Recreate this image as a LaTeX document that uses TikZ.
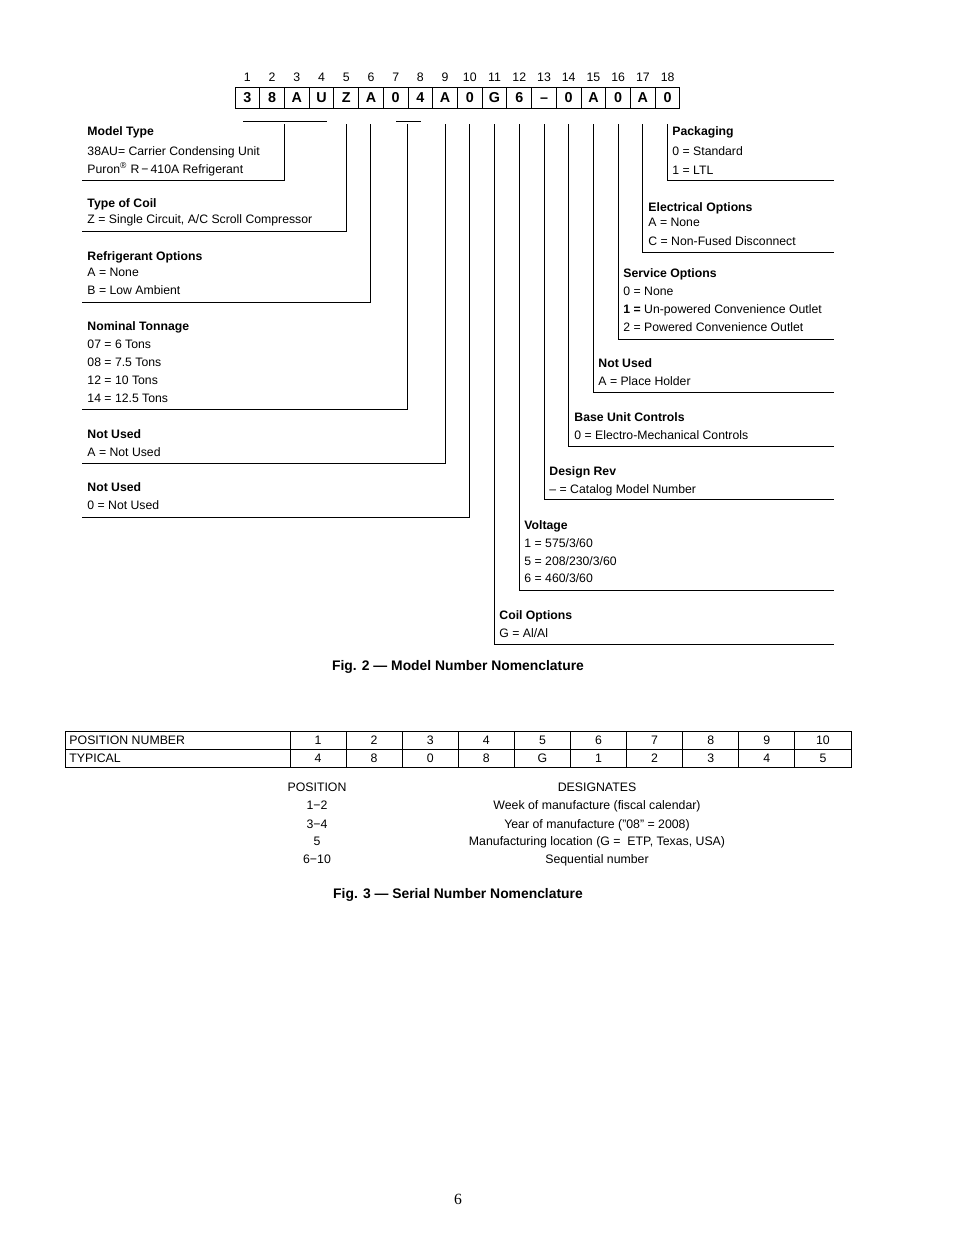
\documentclass[tikz,border=0pt]{standalone}
\usepackage{fontspec}
\setmainfont{Liberation Sans}
\newfontfamily\serifnum{Liberation Serif}
\begin{document}
\begin{tikzpicture}[x=0.6415pt,y=-0.6415pt,
  line width=0.6pt,
  txt/.style={anchor=base west, inner sep=0pt, font=\fontsize{7.85}{9}\selectfont},
  ttl/.style={anchor=base west, inner sep=0pt, font=\fontsize{7.85}{9}\selectfont\bfseries},
  ctr/.style={anchor=base, inner sep=0pt, font=\fontsize{7.9}{9}\selectfont},
  figcap/.style={anchor=base, inner sep=0pt, font=\fontsize{8.9}{10}\selectfont\bfseries},
  cell/.style={draw, minimum width=15.86pt, minimum height=13.5pt, inner sep=0pt, text height=6.6pt, text depth=0pt, font=\fontsize{9.2}{10}\selectfont\bfseries},
  num/.style={anchor=base, inner sep=0pt, font=\fontsize{7.9}{9}\selectfont},
  tab/.style={anchor=base, inner sep=0pt, font=\fontsize{7.9}{8}\selectfont},
  brk/.style={line width=0.6pt}]
\useasboundingbox (0,0) rectangle (954,1235);
\fill[white] (0,0) rectangle (954,1235);

% ---- model number cells
\foreach \i/\c in {1/3,2/8,3/A,4/U,5/Z,6/A,7/0,8/4,9/A,10/0,11/G,12/6,13/{\textendash},14/0,15/A,16/0,17/A,18/0}{
  \node[cell] (c\i) at ({235+(\i-0.5)*24.72},97.5) {\c};
  \node[num] (n\i) at ({235+(\i-0.5)*24.72},81) {\i};
}
\coordinate (lvl) at (0,124);
\coordinate (ua) at (243,121); \coordinate (ub) at (327,121);
\coordinate (uc) at (396,121); \coordinate (ud) at (421,121);
\draw (ua) -- (ub);
\draw (uc) -- (ud);

% ---- left blocks
\node[ttl] (mt0) at (87,135) {Model Type};
\node[txt] (mt1) at (87,155) {38AU= Carrier Condensing Unit};
\node[txt] (mt2) at (87,173) {Puron\textsuperscript{\fontsize{5.5}{6}\selectfont ®} R\,−\,410A Refrigerant};
\coordinate (mtE) at (82,180);
\draw[brk] (c3.south west |- lvl) |- (mtE);

\node[ttl] (tc0) at (87,207) {Type of Coil};
\node[txt] (tc1) at (87,223) {Z = Single Circuit, A/C Scroll Compressor};
\coordinate (tcE) at (82,231);
\draw[brk] (c5.south |- lvl) |- (tcE);

\node[ttl] (ro0) at (87,260) {Refrigerant Options};
\node[txt] (ro1) at (87,276) {A = None};
\node[txt] (ro2) at (87,294) {B = Low Ambient};
\coordinate (roE) at (82,302);
\draw[brk] (c6.south |- lvl) |- (roE);

\node[ttl] (nt0) at (87,330) {Nominal Tonnage};
\node[txt] (nt1) at (87,348) {07 = 6 Tons};
\node[txt] (nt2) at (87,366) {08 = 7.5 Tons};
\node[txt] (nt3) at (87,384) {12 = 10 Tons};
\node[txt] (nt4) at (87,402) {14 = 12.5 Tons};
\coordinate (ntE) at (82,409);
\draw[brk] (c8.south west |- lvl) |- (ntE);

\node[ttl] (na0) at (87,438) {Not Used};
\node[txt] (na1) at (87,456) {A = Not Used};
\coordinate (naE) at (82,463);
\draw[brk] (c9.south |- lvl) |- (naE);

\node[ttl] (nb0) at (87,491) {Not Used};
\node[txt] (nb1) at (87,509) {0 = Not Used};
\coordinate (nbE) at (82,517);
\draw[brk] (c10.south |- lvl) |- (nbE);

% ---- right blocks
\node[ttl] (pk0) at (672,135) {Packaging};
\node[txt] (pk1) at (672,155) {0 = Standard};
\node[txt] (pk2) at (672,174) {1 = LTL};
\coordinate (pkE) at (834,180);
\draw[brk] (c18.south |- lvl) |- (pkE);

\node[ttl] (eo0) at (648,211) {Electrical Options};
\node[txt] (eo1) at (648,226) {A = None};
\node[txt] (eo2) at (648,245) {C = Non-Fused Disconnect};
\coordinate (eoE) at (834,252);
\draw[brk] (c17.south |- lvl) |- (eoE);

\node[ttl] (so0) at (623,277) {Service Options};
\node[txt] (so1) at (623,295) {0 = None};
\node[txt] (so2) at (623,313) {\textbf{1 =} Un-powered Convenience Outlet};
\node[txt] (so3) at (623,331) {2 = Powered Convenience Outlet};
\coordinate (soE) at (834,339);
\draw[brk] (c16.south |- lvl) |- (soE);

\node[ttl] (nu0) at (598,367) {Not Used};
\node[txt] (nu1) at (598,385) {A = Place Holder};
\coordinate (nuE) at (834,392);
\draw[brk] (c15.south |- lvl) |- (nuE);

\node[ttl] (bu0) at (574,421) {Base Unit Controls};
\node[txt] (bu1) at (574,439) {0 = Electro-Mechanical Controls};
\coordinate (buE) at (834,446);
\draw[brk] (c14.south |- lvl) |- (buE);

\node[ttl] (dr0) at (549,475) {Design Rev};
\node[txt] (dr1) at (549,493) {\textendash\ = Catalog Model Number};
\coordinate (drE) at (834,499);
\draw[brk] (c13.south |- lvl) |- (drE);

\node[ttl] (vo0) at (524,529) {Voltage};
\node[txt] (vo1) at (524,547) {1 = 575/3/60};
\node[txt] (vo2) at (524,565) {5 = 208/230/3/60};
\node[txt] (vo3) at (524,582) {6 = 460/3/60};
\coordinate (voE) at (834,590);
\draw[brk] (c12.south |- lvl) |- (voE);

\node[ttl] (co0) at (499,619) {Coil Options};
\node[txt] (co1) at (499,637) {G = Al/Al};
\coordinate (coE) at (834,644);
\draw[brk] (c11.south |- lvl) |- (coE);

\node[figcap] (fig2) at (458,670) {Fig. 2 — Model Number Nomenclature};

% ---- serial number table
\draw (65,731) rectangle (851,767);
\draw (65,749) -- (851,749);
\draw (290,731) -- (290,767);
\foreach \k in {1,...,9}{ \draw ({290+\k*56.1},731) -- ({290+\k*56.1},767); }
\node[tab, anchor=base west] (th) at (69,744) {POSITION NUMBER};
\node[tab, anchor=base west] (tt) at (69,762) {TYPICAL};
\foreach \k/\v in {1/4,2/8,3/0,4/8,5/G,6/1,7/2,8/3,9/4,10/5}{
  \node[tab] (p\k) at ({290+(\k-0.5)*56.1},744) {\k};
  \node[tab] (v\k) at ({290+(\k-0.5)*56.1},762) {\v};
}

\node[ctr] (ph) at (317,791) {POSITION};
\node[ctr] (pa) at (317,809) {1−2};
\node[ctr] (pb) at (317,828) {3−4};
\node[ctr] (pc) at (317,845) {5};
\node[ctr] (pd) at (317,863) {6−10};
\node[ctr] (dh) at (597,791) {DESIGNATES};
\node[ctr] (da) at (597,809) {Week of manufacture (fiscal calendar)};
\node[ctr] (db) at (597,828) {Year of manufacture (”08” = 2008)};
\node[ctr] (dc) at (597,845) {Manufacturing location (G =\ \ ETP, Texas, USA)};
\node[ctr] (dd) at (597,863) {Sequential number};

\node[figcap] (fig3) at (458,898) {Fig. 3 — Serial Number Nomenclature};

\node[anchor=base, inner sep=0pt, font=\serifnum\fontsize{10}{12}\selectfont] (pg) at (458,1204) {6};
\end{tikzpicture}
\end{document}
